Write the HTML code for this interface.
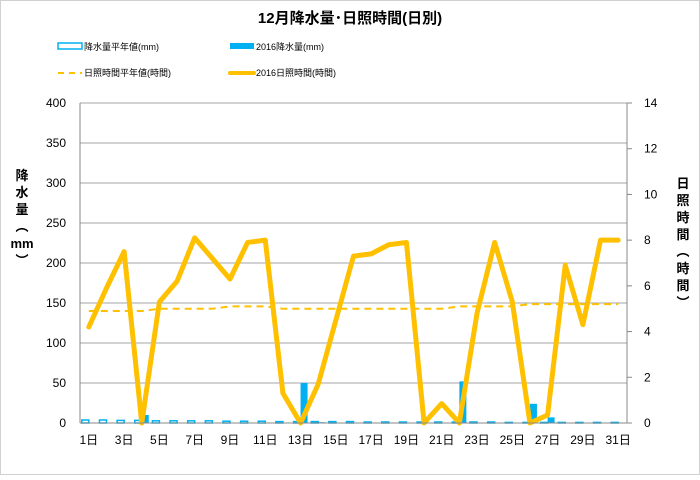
<!DOCTYPE html>
<html><head><meta charset="utf-8"><style>
body{margin:0;background:#fff;font-family:"Liberation Sans","Noto Sans CJK JP",sans-serif}
svg text{font-family:"Liberation Sans","Noto Sans CJK JP",sans-serif}
</style></head><body>
<svg id="c" width="700" height="475" xmlns="http://www.w3.org/2000/svg">
<rect x="0.5" y="0.5" width="699" height="474" fill="#fff" stroke="#d0d0d0"/>
<text x="350" y="23" text-anchor="middle" font-size="15" font-weight="bold">12月降水量･日照時間(日別)</text>
<g>
<rect x="58" y="43" width="24" height="6" fill="#fff" stroke="#00b0f0" stroke-width="1.5"/>
<text x="84" y="50" font-size="9">降水量平年値(mm)</text>
<rect x="230" y="43" width="24" height="6" fill="#00b0f0"/>
<text x="256" y="50" font-size="9">2016降水量(mm)</text>
<line x1="58" y1="73" x2="82" y2="73" stroke="#ffc000" stroke-width="2" stroke-dasharray="6,5"/>
<text x="84" y="76" font-size="9">日照時間平年値(時間)</text>
<line x1="230" y1="73" x2="254" y2="73" stroke="#ffc000" stroke-width="4" stroke-linecap="round"/>
<text x="256" y="76" font-size="9">2016日照時間(時間)</text>
</g>
<g id="grid"></g><g id="bars"></g><g id="lines"></g><g id="axes"></g>
<text transform="translate(22,180)" font-size="13" font-weight="bold" text-anchor="middle"><tspan x="0" dy="0">降</tspan><tspan x="0" dy="17">水</tspan><tspan x="0" dy="17">量</tspan><tspan x="0" dy="17">︵</tspan><tspan x="0" dy="17">mm</tspan><tspan x="0" dy="17">︶</tspan></text>
<text transform="translate(683,188)" font-size="13" font-weight="bold" text-anchor="middle"><tspan x="0" dy="0">日</tspan><tspan x="0" dy="17">照</tspan><tspan x="0" dy="17">時</tspan><tspan x="0" dy="17">間</tspan><tspan x="0" dy="17">︵</tspan><tspan x="0" dy="17">時</tspan><tspan x="0" dy="17">間</tspan><tspan x="0" dy="17">︶</tspan></text>
</svg>
<script>
const days=[1,2,3,4,5,6,7,8,9,10,11,12,13,14,15,16,17,18,19,20,21,22,23,24,25,26,27,28,29,30,31];
const precipNormal=[5,5,4.5,4.5,4,4,4,4,3.5,3.5,3.5,3,3,3,3,3,2.5,2.5,2.5,2.5,2.5,2.5,2.5,2.5,2,2,2,2,2,2,2];
const precip2016=[0,0,0,10,0,0,0,0,0,0,0,0,50,1,0,0,0,0,0,0,0,52,0,0,0,24,7,0,0,0,0];
const sunNormal=[4.9,4.9,4.9,4.9,5.0,5.0,5.0,5.0,5.1,5.1,5.1,5.0,5.0,5.0,5.0,5.0,5.0,5.0,5.0,5.0,5.0,5.1,5.1,5.1,5.1,5.2,5.2,5.2,5.2,5.2,5.2];
const sun2016=[4.2,5.9,7.5,0,5.3,6.2,8.1,7.2,6.3,7.9,8.0,1.3,0,1.7,4.5,7.3,7.4,7.8,7.9,0,0.85,0,4.8,7.9,5.3,0,0.35,6.9,4.3,8.0,8.0];
const leftTicks=[0,50,100,150,200,250,300,350,400];
const rightTicks=[0,2,4,6,8,10,12,14];
const X0=80,X1=627,Y0=423,Y1=103;
const cw=(X1-X0)/days.length;
const xc=i=>X0+cw*(i+0.5);
const yL=v=>Y0-(v/400)*(Y0-Y1);
const yR=v=>Y0-(v/14)*(Y0-Y1);
const NS="http://www.w3.org/2000/svg";
function mk(t,a,p){const e=document.createElementNS(NS,t);for(const k in a)e.setAttribute(k,a[k]);document.getElementById(p).appendChild(e);return e;}
leftTicks.forEach(v=>{
 if(v>0){const g=mk('line',{x1:X0,x2:X1,y1:yL(v),y2:yL(v),stroke:'#a6a6a6','stroke-width':1},'grid');
 
 }
 const t=mk('text',{x:X0-14,y:yL(v)+4,'text-anchor':'end','font-size':12},'axes');t.textContent=v;
 
 
});
rightTicks.forEach(v=>{
 const l=mk('line',{x1:X1,x2:X1+5,y1:yR(v),y2:yR(v),stroke:'#888'},'axes');
 
 
 const t=mk('text',{x:X1+17,y:yR(v)+4,'text-anchor':'start','font-size':12},'axes');t.textContent=v;
 
 
});
let ax=mk('line',{x1:X0,x2:X0,y1:Y1,y2:Y0,stroke:'#888'},'axes');


ax=mk('line',{x1:X1,x2:X1,y1:Y1,y2:Y0,stroke:'#888'},'axes');


ax=mk('line',{x1:X0,x2:X1,y1:Y0,y2:Y0,stroke:'#888'},'axes');


days.forEach((d,i)=>{
 if(i%2===0){const t=mk('text',{x:xc(i),y:Y0+21,'text-anchor':'middle','font-size':12},'axes');t.textContent=d+'日';
 
 }
 const h1=Math.max(0,Y0-yL(precipNormal[i]));
 const b1=mk('rect',{x:xc(i)-7,y:Y0-h1+1,width:7,height:Math.max(h1-1,0.5),fill:'#fff',stroke:'#00b0f0','stroke-width':1.5},'bars');
 
 
 const h2=Y0-yL(precip2016[i]);
 const b2=mk('rect',{x:xc(i),y:Y0-h2,width:7,height:h2,fill:'#00b0f0'},'bars');
 
 
});
const pn=mk('polyline',{points:sunNormal.map((v,i)=>xc(i)+','+yR(v)).join(' '),fill:'none',stroke:'#ffc000','stroke-width':2,'stroke-dasharray':'7,5'},'lines');


const ps=mk('polyline',{points:sun2016.map((v,i)=>xc(i)+','+yR(v)).join(' '),fill:'none',stroke:'#ffc000','stroke-width':5,'stroke-linejoin':'round','stroke-linecap':'round'},'lines');


</script>
</body></html>
